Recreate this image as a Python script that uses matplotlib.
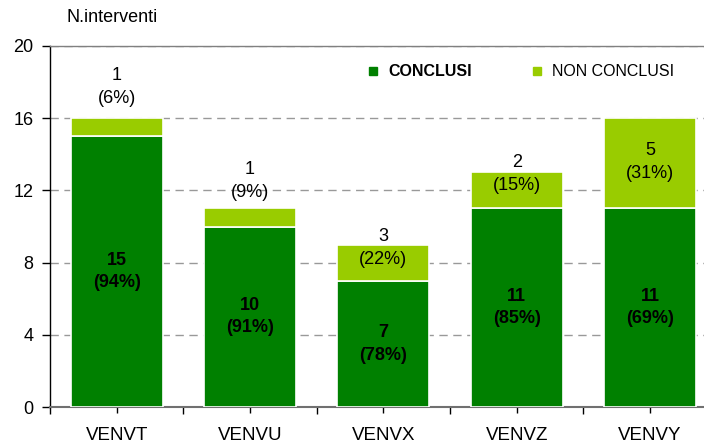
import matplotlib
matplotlib.use("Agg")
import matplotlib.pyplot as plt
from matplotlib.lines import Line2D
import numpy as np

plt.rcParams['font.family'] = ['Liberation Sans', 'DejaVu Sans']

categories = ["VENVT", "VENVU", "VENVX", "VENVZ", "VENVY"]
conclusi = [15, 10, 7, 11, 11]
non_conclusi = [1, 1, 2, 2, 5]
# label texts as printed on the reference chart
conclusi_labels = ["15", "10", "7", "11", "11"]
conclusi_pct = [94, 91, 78, 85, 69]
non_conclusi_labels = ["1", "1", "3", "2", "5"]
non_conclusi_pct = [6, 9, 22, 15, 31]
series_names = ["CONCLUSI", "NON CONCLUSI"]
y_ticks = [0, 4, 8, 12, 16, 20]
y_label = "N.interventi"
# vertical shift (data units) of the NON CONCLUSI labels from their segment centre
ncl_label_shift = [2.2, 2.0, 0.8, 0.9, 0.05]

c_dark = "#008000"
c_light = "#99CC00"

W, H = 704, 445
fig = plt.figure(figsize=(W / 100, H / 100), dpi=100)
ax_left, ax_right, ax_top, ax_bottom = 50.0, 716.7, 45.7, 407.3
ax = fig.add_axes([ax_left / W, (H - ax_bottom) / H,
                   (ax_right - ax_left) / W, (ax_bottom - ax_top) / H])

x = np.arange(len(categories))
bw = 0.69
ax.bar(x, conclusi, bw, color=c_dark, edgecolor="white", linewidth=1.2, zorder=3)
ax.bar(x, non_conclusi, bw, bottom=conclusi, color=c_light, edgecolor="white",
       linewidth=1.2, zorder=3)

for i in range(len(categories)):
    ax.text(x[i], conclusi[i] / 2, f"{conclusi_labels[i]}\n({conclusi_pct[i]}%)",
            ha="center", va="center", fontsize=13, fontweight="bold",
            linespacing=1.4, color="black", zorder=4)
    yc = conclusi[i] + non_conclusi[i] / 2 + ncl_label_shift[i]
    ax.text(x[i], yc, f"{non_conclusi_labels[i]}\n({non_conclusi_pct[i]}%)",
            ha="center", va="center", fontsize=13, linespacing=1.45,
            color="black", zorder=4)

ax.set_xlim(-0.5, len(categories) - 0.5)
ax.set_ylim(0, 20)
ax.set_yticks(y_ticks)
ax.set_yticklabels([str(v) for v in y_ticks], fontsize=13)
ax.set_xticks(x)
ax.set_xticklabels(categories, fontsize=13.5)
ax.set_xticks(np.arange(len(categories) + 1) - 0.5, minor=True)

ax.tick_params(axis="y", direction="out", length=6, width=1, pad=6, color="black")
ax.tick_params(axis="x", which="major", direction="inout", length=8, width=1,
               pad=10.5, color="black")
ax.tick_params(axis="x", which="minor", direction="out", length=5, width=1,
               color="black")

ax.yaxis.grid(True, linestyle=(0, (6, 4)), color="#999999", linewidth=1, zorder=0)
ax.set_axisbelow(True)

ax.spines["right"].set_visible(False)
ax.spines["top"].set_color("#808080")
ax.spines["top"].set_linewidth(1)
ax.spines["left"].set_color("black")
ax.spines["left"].set_linewidth(1)
ax.spines["bottom"].set_color("#707070")
ax.spines["bottom"].set_linewidth(1.5)

fig.text(67 / W, 1 - 18 / H, y_label, ha="left", va="center", fontsize=13)

# legend
leg_y = 1 - 71 / H
fig.add_artist(Line2D([373 / W], [leg_y], transform=fig.transFigure, marker="s",
                      markersize=6, color=c_dark, linestyle=""))
fig.text(388 / W, leg_y, series_names[0], ha="left", va="center",
         fontsize=11.5, fontweight="bold")
fig.add_artist(Line2D([537 / W], [leg_y], transform=fig.transFigure, marker="s",
                      markersize=6, color=c_light, linestyle=""))
fig.text(552 / W, leg_y, series_names[1], ha="left", va="center", fontsize=11.5)

fig.savefig("out.png", dpi=100)
